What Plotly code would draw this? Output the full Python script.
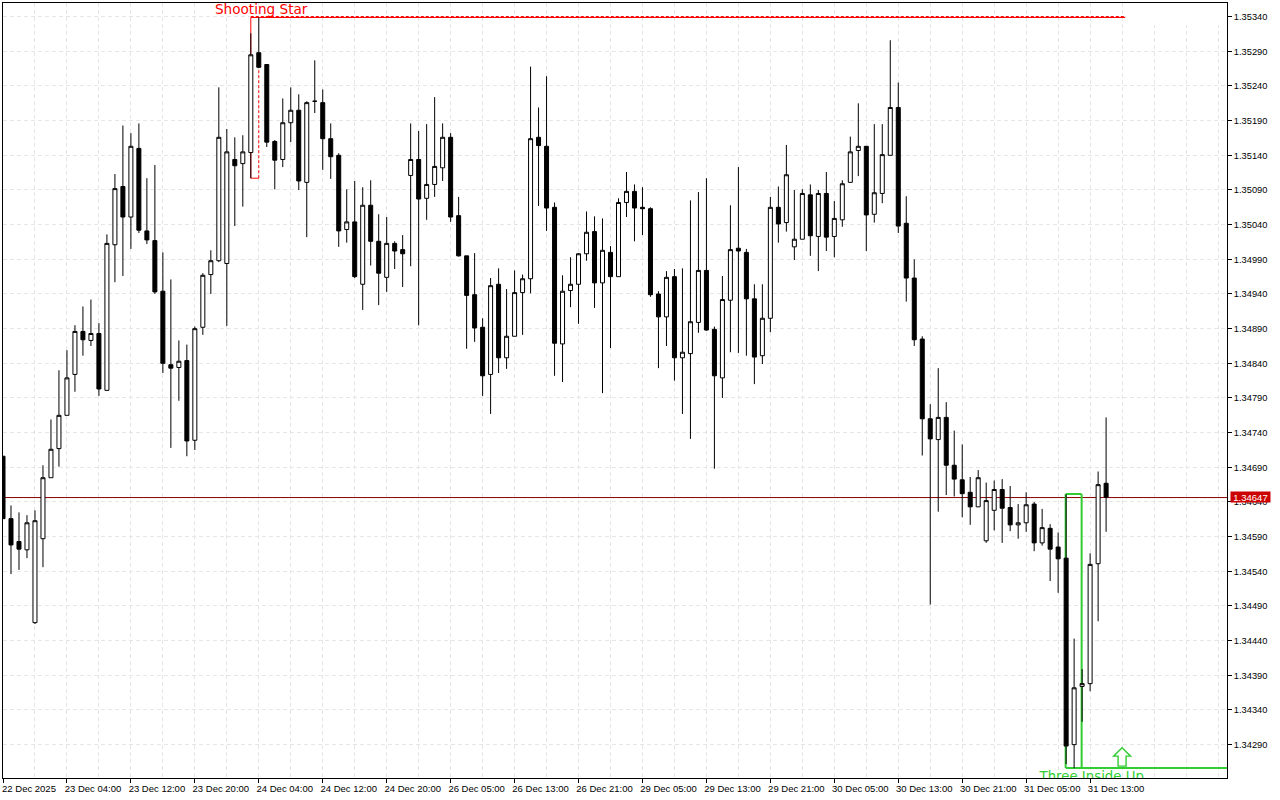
import plotly.graph_objects as go

# Prices in points (1 point = 0.00001)
highs = [
134706,134635,134625,134621,134628,134693,134759,134830,134859,134895,
134922,134932,134898,135026,135113,135183,135172,135186,135107,135126,
135000,134961,134873,134867,134893,134970,135003,135238,135178,135166,
135169,135316,135339,135271,135162,135222,135238,135228,135218,135277,
135235,135186,135143,135091,135103,135094,135104,135055,135051,135016,
135025,135186,135175,135185,135224,135186,135172,135080,134995,134999,
134905,134963,134977,134947,134974,134968,135268,135209,135254,135072,
134967,134993,134999,135059,135052,135049,135009,135078,135116,135098,
135094,135065,134944,134973,134976,134977,135075,135087,135107,134893,
134966,135068,135123,135005,134954,134954,135080,135095,135155,135090,
135091,135098,135090,135116,135074,135104,135167,135215,135153,135185,
135185,135306,135245,135081,134990,134879,134781,134833,134784,134743,
134723,134676,134686,134668,134671,134673,134663,134637,134654,134640,
134630,134608,134596,134651,134443,134399,134566,134684,134762]
lows = [
134616,134536,134542,134559,134464,134546,134675,134691,134765,134799,
134851,134865,134793,134801,134957,134966,135005,135028,135012,134940,
134826,134718,134786,134706,134715,134881,134940,134986,134894,135038,
135066,135107,135266,135152,135091,135123,135159,135090,135022,135201,
135119,135106,135008,135014,134963,134917,134981,134924,134943,134976,
134950,134980,134895,135047,135080,135103,135044,134994,134861,134871,
134793,134767,134826,134832,134879,134881,134941,135067,135031,134822,
134813,134921,134897,134988,134920,134797,134862,134965,135051,135016,
135025,134936,134833,134865,134815,134767,134731,134884,134887,134688,
134790,134856,134855,134851,134810,134839,134885,135014,135030,134989,
135019,134995,134973,135002,134993,135037,135101,135110,135002,135043,
135071,135140,135028,134929,134865,134707,134492,134626,134650,134648,
134618,134607,134633,134581,134599,134581,134598,134587,134597,134569,
134577,134526,134509,134262,134256,134323,134367,134468,134597]
opens = [
134706,134616,134583,134571,134466,134587,134675,134717,134765,134824,
134886,134873,134883,134801,135011,135095,135051,135150,135031,135017,
134944,134838,134834,134844,134729,134892,134968,134988,134984,135134,
135128,135144,135288,135271,135160,135134,135187,135205,135101,135218,
135216,135164,135140,135033,135044,134954,135068,135016,134964,135013,
135004,135111,135134,135078,135098,135122,135166,135053,134995,134939,
134892,134824,134954,134848,134879,134942,134962,135166,135153,135065,
134868,134945,134954,134998,135030,134956,135000,134965,135072,135088,
135065,135063,134940,134907,134965,134848,134854,134899,134974,134889,
134819,134931,135006,135000,134933,134851,134905,135065,135043,135008,
135019,135083,135023,135085,135023,135047,135101,135147,135153,135055,
135085,135140,135209,135042,134963,134875,134760,134730,134762,134693,
134672,134654,134633,134584,134628,134658,134632,134607,134610,134637,
134581,134602,134575,134559,134290,134374,134378,134551,134667]
closes = [
134616,134578,134572,134610,134613,134675,134716,134765,134819,134886,
134874,134883,134803,135013,135092,135051,135153,135032,135018,134943,
134840,134833,134843,134728,134890,134967,134988,135166,135145,135125,
135145,135285,135267,135159,135133,135187,135205,135103,135216,135218,
135164,135138,135031,135044,134965,135068,135016,134970,135013,135002,
134998,135134,135077,135098,135124,135166,135051,134995,134938,134891,
134822,134952,134848,134879,134942,134962,135164,135154,135064,134869,
134944,134954,134998,135029,134956,135003,134965,135072,135088,135064,
135063,134939,134907,134964,134848,134856,134900,134974,134888,134822,
134932,135004,135002,134933,134849,134905,135065,135041,135112,135019,
135085,135024,135085,135022,135049,135099,135145,135153,135054,135086,
135141,135209,135038,134963,134874,134760,134731,134762,134693,134673,
134652,134633,134675,134642,134658,134631,134607,134610,134636,134581,
134603,134572,134558,134288,134372,134378,134550,134665,134647]

x_tick_labels = ["22 Dec 2025","23 Dec 04:00","23 Dec 12:00","23 Dec 20:00","24 Dec 04:00",
    "24 Dec 12:00","24 Dec 20:00","26 Dec 05:00","26 Dec 13:00","26 Dec 21:00","29 Dec 05:00",
    "29 Dec 13:00","29 Dec 21:00","30 Dec 05:00","30 Dec 13:00","30 Dec 21:00","31 Dec 05:00",
    "31 Dec 13:00"]
y_tick_labels = ["1.34290","1.34340","1.34390","1.34440","1.34490","1.34540","1.34590","1.34640",
    "1.34690","1.34740","1.34790","1.34840","1.34890","1.34940","1.34990","1.35040","1.35090",
    "1.35140","1.35190","1.35240","1.35290","1.35340"]

bid_price = 1.34647
bid_line_price = 1.346464  # falls on a whole pixel row, so the 1px line stays crisp
x_range = [0, 153.125]
y_range = [1.342419, 1.353597]

# Pattern markers: bar indices and price levels
star_left, star_right, star_line_end = 31, 32, 140.4
star_top_solid, star_top_dash, star_low, star_body_low = 1.353388, 1.353402, 1.35107, 1.35266
star_label_bar, star_label_price = 32.3, 1.353485
up_left, up_right = 132.94, 134.94
up_top, up_low = 1.346515, 1.342563
up_label_bar, up_label_price = 136.2, 1.34243
arrow_bar, arrow_price = 140, 1.34272

RED = "#ff0000"
GREEN = "#32cd32"
GRID = "#e6e6e6"
FONT = "Liberation Sans"

xs = list(range(len(opens)))
toprice = lambda a: [v / 100000 for v in a]

fig = go.Figure()
fig.add_trace(go.Candlestick(
    x=xs, open=toprice(opens), high=toprice(highs), low=toprice(lows), close=toprice(closes),
    increasing=dict(line=dict(color="#000000", width=1), fillcolor="#ffffff"),
    decreasing=dict(line=dict(color="#000000", width=1), fillcolor="#000000"),
    whiskerwidth=0, hoverinfo="skip", showlegend=False))
fig.add_trace(go.Scatter(
    x=[star_label_bar], y=[star_label_price], mode="text", text=["Shooting Star"],
    textfont=dict(family="DejaVu Sans", size=13.6, color=RED), cliponaxis=True,
    hoverinfo="skip", showlegend=False))
fig.add_trace(go.Scatter(
    x=[up_label_bar], y=[up_label_price], mode="text", text=["Three Inside Up"],
    textfont=dict(family="DejaVu Sans", size=13.3, color=GREEN), cliponaxis=True,
    hoverinfo="skip", showlegend=False))


def seg(x0, y0, x1, y1, color, width=1, dash="solid"):
    return dict(type="line", layer="between", xref="x", yref="y", x0=x0, y0=y0, x1=x1, y1=y1,
                line=dict(color=color, width=width, dash=dash))


shapes = [
    # blank patch behind the top right corner
    dict(type="rect", layer="between", xref="x", yref="y", x0=140.55, x1=x_range[1],
         y0=1.35328, y1=y_range[1], fillcolor="#ffffff", line=dict(width=0)),
    seg(x_range[0], bid_line_price, x_range[1], bid_line_price, "#880000", 1),
    seg(star_left, star_top_solid, star_line_end, star_top_solid, RED, 1),
    seg(star_left, star_top_dash, star_line_end, star_top_dash, RED, 1, "3px,2px"),
    seg(star_left, star_top_solid, star_left, star_low, RED, 1),
    seg(star_left, star_low, star_right, star_low, RED, 1),
    seg(star_right, star_low, star_right, star_body_low, RED, 1, "3px,2px"),
    seg(up_left, up_top, up_right, up_top, GREEN, 2),
    seg(up_left, up_top, up_left, up_low, GREEN, 2),
    seg(up_right, up_top, up_right, up_low, GREEN, 2),
    seg(up_left, up_low, x_range[1], up_low, GREEN, 2),
    dict(type="path", layer="above", xref="x", yref="y", xsizemode="pixel", ysizemode="pixel",
         xanchor=arrow_bar, yanchor=arrow_price,
         path="M 0 9.5 L 8.5 1 L 4 1 L 4 -9 L -4 -9 L -4 1 L -8.5 1 Z",
         fillcolor="#ffffff", line=dict(color=GREEN, width=1.4)),
]

fig.update_layout(
    width=1280, height=800, autosize=False,
    margin=dict(l=2.5, r=52.5, t=3, b=22, pad=0),
    paper_bgcolor="#ffffff", plot_bgcolor="#ffffff",
    showlegend=False, boxgap=0.5, boxgroupgap=0, shapes=shapes, hovermode=False,
    annotations=[dict(
        xref="paper", yref="y", x=1, y=bid_price, text="1.34647", showarrow=False,
        xanchor="left", yanchor="middle", xshift=3, width=39, height=10, borderpad=0,
        bgcolor="#cc0000", font=dict(family=FONT, size=9.5, color="#ffffff"))],
    xaxis=dict(
        range=x_range, autorange=False, rangeslider=dict(visible=False),
        tickmode="array", tickvals=[i * 8 for i in range(len(x_tick_labels))],
        ticktext=x_tick_labels, ticks="outside", ticklen=4, tickcolor="#000000", tickwidth=1,
        ticklabelshift=26, ticklabelstandoff=-2, tickangle=0,
        tickfont=dict(family=FONT, size=9.5, color="#000000"),
        showline=True, linecolor="#000000", linewidth=1, mirror=True,
        showgrid=True, gridcolor=GRID, griddash="4px,3px", gridwidth=1, zeroline=False,
        minor=dict(tick0=0, dtick=4, showgrid=True, gridcolor=GRID, griddash="4px,3px",
                   gridwidth=1, ticks=""),
    ),
    yaxis=dict(
        range=y_range, autorange=False, side="right",
        tickmode="array", tickvals=[float(t) for t in y_tick_labels], ticktext=y_tick_labels,
        ticks="outside", ticklen=4, tickcolor="#000000", tickwidth=1,
        tickfont=dict(family=FONT, size=9.3, color="#000000"),
        showline=True, linecolor="#000000", linewidth=1, mirror=True,
        showgrid=True, gridcolor=GRID, griddash="4px,3px", gridwidth=1, zeroline=False,
    ),
)

fig.write_html("out.html", config=dict(displayModeBar=False, staticPlot=True),
               post_script="document.body.style.margin='0';document.body.style.overflow='hidden';")
